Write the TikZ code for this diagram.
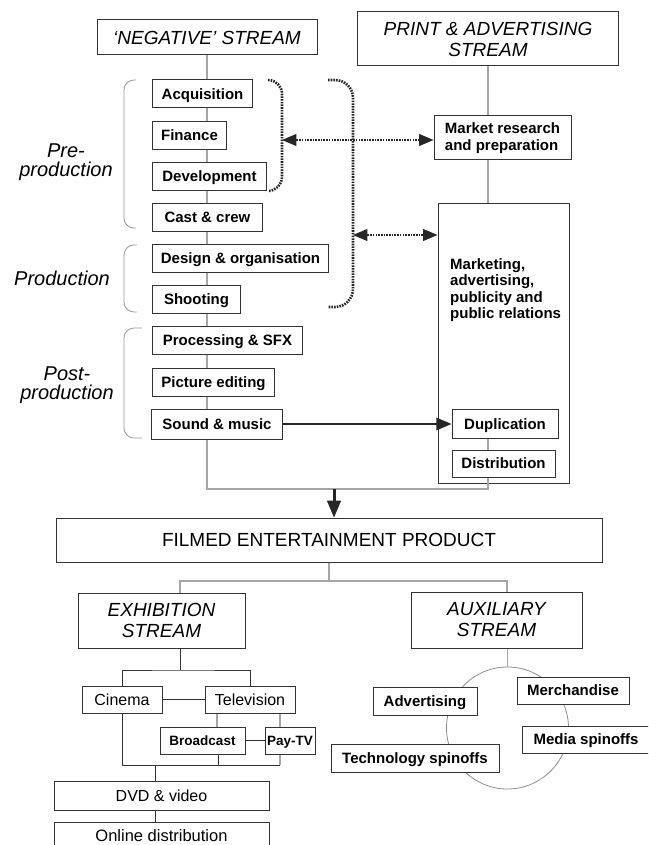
\documentclass[tikz,border=0pt]{standalone}
\usepackage{fontspec}
\setmainfont{Liberation Sans}
\usepackage{tikz}
\usetikzlibrary{shapes.geometric, arrows}
\usetikzlibrary{positioning}
\tikzstyle{stream} = [rectangle, draw=black!80, line width=1pt, fill=white, text centered, align=center, inner sep=0pt, font=\itshape\fontsize{19}{21}\selectfont]
\tikzstyle{task} = [rectangle, draw=black!80, line width=1pt, fill=white, text centered, inner sep=0pt, text height=10.8pt, text depth=0pt, minimum height=28pt, font=\bfseries\fontsize{15}{17}\selectfont]
\tikzstyle{outlet} = [task, text height=11.5pt, font=\fontsize{16}{18}\selectfont]
\tikzstyle{tvbox} = [task, text height=9.7pt, minimum height=27pt, font=\bfseries\fontsize{13.5}{15}\selectfont]
\tikzstyle{phase} = [align=center, text=black, font=\itshape\fontsize{20}{19}\selectfont]
\tikzstyle{link} = [gray!70, line width=1.2pt]
\tikzstyle{wire} = [black!80, line width=1pt]
\tikzstyle{brace} = [gray!80, line width=0.8pt, rounded corners=10pt]
\tikzstyle{dotbrace} = [black!85, dash pattern=on 1.6pt off 1.1pt, line width=2.6pt, rounded corners=14pt]
\tikzstyle{dotarrow} = [black!85, dash pattern=on 1.6pt off 1.1pt, line width=2.4pt, triangle 45-triangle 45]
\tikzstyle{arrow} = [black!85, line width=2.6pt, -triangle 45]
\tikzstyle{bigarrow} = [black!85, line width=3pt, -triangle 45]

\begin{document}
\begin{tikzpicture}[x=1pt, y=-1pt]
    \useasboundingbox (0,0) rectangle (648,845);
    \clip (0,0) rectangle (648,845);
    % streams at the top
    \node (neg) [stream, minimum width=220pt, minimum height=35pt] at (207,37.5) {‘NEGATIVE’ STREAM};
    \node (print) [stream, minimum width=261pt, minimum height=54pt] at (488,39) {PRINT \& ADVERTISING\\STREAM};
    % negative stream
    \node (acq) [task, anchor=west, minimum width=100pt] at (152,94) {Acquisition};
    \node (fin) [task, anchor=west, minimum width=74pt] at (152,135.5) {Finance};
    \node (dev) [task, anchor=west, minimum width=114pt] at (152,176.5) {Development};
    \node (cast) [task, anchor=west, minimum width=110pt] at (152,217) {Cast \& crew};
    \node (design) [task, anchor=west, minimum width=176pt] at (152,258) {Design \& organisation};
    \node (shoot) [task, anchor=west, minimum width=88pt] at (152,299.5) {Shooting};
    \node (proc) [task, anchor=west, minimum width=150pt] at (152,340) {Processing \& SFX};
    \node (edit) [task, anchor=west, minimum width=122pt] at (152,382) {Picture editing};
    \node (sound) [task, anchor=west, minimum width=131pt, minimum height=30pt] at (151,424) {Sound \& music};
    \node (pre) [phase] at (66,162) {Pre-\\production};
    \node (prod) [phase] at (62,278) {Production};
    \node (post) [phase] at (67,385) {Post-\\production};
    % print and advertising stream
    \node (market) [task, align=left, text height=, text depth=, minimum width=137pt, minimum height=44pt] at (502.5,138) {Market research\\and preparation};
    \node (mkt) [task, minimum width=131pt, minimum height=280pt] at (503.5,343) {};
    \node (mkttext) [align=left, anchor=north west, inner sep=0pt, font=\bfseries\fontsize{15}{16.5}\selectfont] at (450,258) {Marketing,\\advertising,\\publicity and\\public relations};
    \node (dup) [task, minimum width=106pt, minimum height=29pt] at (505,424) {Duplication};
    \node (dist) [task, minimum width=103pt, minimum height=27pt] at (503.5,463.5) {Distribution};
    \coordinate (join) at (334,489);
    \coordinate (devbrace) at (282,140);
    \coordinate (allbrace) at (353,235);
    % product and its streams
    \node (film) [stream, font=\fontsize{19}{21}\selectfont, minimum width=546pt, minimum height=44pt] at (329,540) {FILMED ENTERTAINMENT PRODUCT};
    \coordinate (fork) at (329,581);
    \node (exh) [stream, minimum width=167pt, minimum height=55pt] at (161.5,620.5) {EXHIBITION\\STREAM};
    \node (aux) [stream, minimum width=171pt, minimum height=56pt] at (496.5,620) {AUXILIARY\\STREAM};
    % exhibition windows
    \coordinate (split) at (180,670);
    \node (cinema) [outlet, minimum width=80pt, minimum height=27pt] at (122,699.5) {Cinema};
    \node (tv) [outlet, minimum width=90pt, minimum height=27pt] at (250,699.5) {Television};
    \node (broad) [tvbox, minimum width=85pt] at (202.5,740.5) {Broadcast};
    \node (pay) [tvbox, minimum width=50pt] at (290,740.5) {Pay-TV};
    \coordinate (merge) at (155,765);
    \node (dvd) [outlet, minimum width=215pt, minimum height=29pt] at (161.5,795.5) {DVD \& video};
    \node (online) [outlet, font=\fontsize{16.5}{18}\selectfont, minimum width=215pt] at (161.5,836) {Online distribution};
    % auxiliary markets
    \node (hub) [circle, draw=gray!90, line width=0.8pt, minimum size=122pt, inner sep=0pt] at (507.5,728) {};
    \node (adv) [task, minimum width=104pt] at (425,701) {Advertising};
    \node (merch) [task, minimum width=112pt, minimum height=27pt] at (573,690.5) {Merchandise};
    \node (media) [task, minimum width=128pt, minimum height=27pt] at (586,739.5) {Media spinoffs};
    \node (tech) [task, minimum width=168pt] at (415,758) {Technology spinoffs};

    \draw [link] (neg.south) -- (neg.south |- acq.north);
    \draw [link] (neg.south |- acq.south) -- (neg.south |- fin.north);
    \draw [link] (neg.south |- fin.south) -- (neg.south |- dev.north);
    \draw [link] (neg.south |- dev.south) -- (neg.south |- cast.north);
    \draw [link] (neg.south |- cast.south) -- (neg.south |- design.north);
    \draw [link] (neg.south |- design.south) -- (neg.south |- shoot.north);
    \draw [link] (neg.south |- shoot.south) -- (neg.south |- proc.north);
    \draw [link] (neg.south |- proc.south) -- (neg.south |- edit.north);
    \draw [link] (neg.south |- edit.south) -- (neg.south |- sound.north);
    \draw [link] (neg.south |- sound.south) -- (neg.south |- join) -- (print.south |- join) -- (print.south |- dist.south);
    \draw [link] (print.south) -- (print.south |- market.north);
    \draw [link] (print.south |- market.south) -- (print.south |- mkt.north);
    \draw [link] (print.south |- dup.south) -- (print.south |- dist.north);
    \draw [brace] (136,80) -| (124,154) |- (136,228);
    \draw [brace] (137,245) -| (124,278) |- (137,312);
    \draw [brace] (142,328) -| (124,383) |- (142,438);
    \draw [dotbrace] (268,80) -| (282,136) |- (268,191);
    \draw [dotbrace, rounded corners=18pt] (328,80) -| (353,194) |- (328,307);
    \draw [dotarrow] (devbrace) -- (devbrace -| market.west);
    \draw [dotarrow] (allbrace) -- (allbrace -| mkt.west);
    \draw [arrow] (sound.east) -- (dup.west);
    \draw [bigarrow] (join) -- (join |- film.north);
    \draw [link] (film.south) -- (fork);
    \draw [link] ([xshift=18.5pt]exh.north) |- (fork) -| ([xshift=10.5pt]aux.north);
    \draw [wire] ([xshift=18.5pt]exh.south) -- (split);
    \draw [wire] (cinema.north) |- (split) -| (tv.north);
    \draw [wire] (cinema) -- (tv);
    \draw [wire] (broad) -- (pay);
    \draw [link] (tv.south -| 217,0) -- (broad.north -| 217,0);
    \draw [link] (tv.south -| 280,0) -- (pay.north -| 280,0);
    \draw [wire] (cinema.south) -- (cinema.south |- merge) -- (merge -| 280,0);
    \draw [link] (pay.south -| 280,0) -- (merge -| 280,0);
    \draw [wire] (broad.south -| 218,0) -- (merge -| 218,0);
    \draw [wire] (merge) -- (dvd.north -| merge);
    \draw [wire] (dvd.south -| merge) -- (online.north -| merge);
    \draw [link] (aux.south -| hub.north) -- (hub.north);
\end{tikzpicture}
\end{document}
